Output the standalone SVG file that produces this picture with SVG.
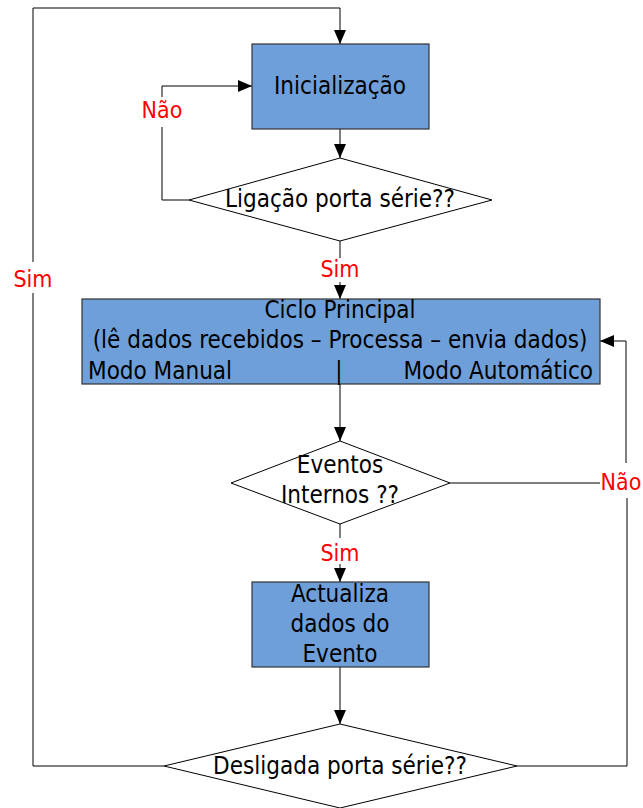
<svg xmlns="http://www.w3.org/2000/svg" width="643" height="808" viewBox="0 0 643 808">
<style>
.box{fill:#6f9fd9;stroke:#333;stroke-width:1.2}
.dia{fill:#fff;stroke:#000;stroke-width:1}
.ln{fill:none;stroke:#000;stroke-width:1}
.t{font-family:"DejaVu Sans Condensed","DejaVu Sans",sans-serif;font-stretch:condensed;font-size:24px;fill:#000;text-anchor:middle}
.lb{font-family:"DejaVu Sans Condensed","DejaVu Sans",sans-serif;font-stretch:condensed;font-size:23px;fill:#f00;text-anchor:middle}
</style>
<defs>
<marker id="ar" markerUnits="userSpaceOnUse" markerWidth="14" markerHeight="14" viewBox="0 0 14 12" refX="14" refY="6" orient="auto">
<path d="M0,0 L14,6 L0,12 Z" fill="#000"/>
</marker>
</defs>
<rect width="643" height="808" fill="#fff"/>
<g id="connectors">
<path class="ln" d="M164,766 H33 V293"/>
<path class="ln" d="M33,262 V8 H340 V44" marker-end="url(#ar)"/>
<path class="ln" d="M340,129 V158" marker-end="url(#ar)"/>
<path class="ln" d="M189,200 H162 V127"/>
<path class="ln" d="M162,97 V86 H252" marker-end="url(#ar)"/>
<path class="ln" d="M340,241 V258"/>
<path class="ln" d="M340,282 V299" marker-end="url(#ar)"/>
<path class="ln" d="M340,384 V441" marker-end="url(#ar)"/>
<path class="ln" d="M450,483 H600"/>
<path class="ln" d="M626,463 V341 H600" marker-end="url(#ar)"/>
<path class="ln" d="M517,766 H627 V498"/>
<path class="ln" d="M340,524 V538"/>
<path class="ln" d="M340,564 V582" marker-end="url(#ar)"/>
<path class="ln" d="M340,667 V724" marker-end="url(#ar)"/>
<text class="lb" x="162" y="118">Não</text>
<text class="lb" x="33" y="287">Sim</text>
<text class="lb" x="340" y="277">Sim</text>
<text class="lb" x="621" y="490">Não</text>
<text class="lb" x="340" y="561">Sim</text>
</g>
<g id="inicializacao">
<rect class="box" x="252" y="44" width="177" height="85"/>
<text class="t" x="340" y="94">Inicialização</text>
</g>
<g id="ligacao">
<polygon class="dia" points="340,158 492,200 340,241 189,200"/>
<text class="t" x="340" y="207">Ligação porta série??</text>
</g>
<g id="ciclo">
<rect class="box" x="82" y="299" width="518" height="85"/>
<text class="t" x="340" y="318">Ciclo Principal</text>
<text class="t" x="340" y="348">(lê dados recebidos – Processa – envia dados)</text>
<text class="t" x="88" y="379" style="text-anchor:start">Modo Manual</text>
<text class="t" x="339" y="379">|</text>
<text class="t" x="593" y="379" style="text-anchor:end">Modo Automático</text>
</g>
<g id="eventos">
<polygon class="dia" points="340,441 450,483 340,524 231,483"/>
<text class="t" x="340" y="473">Eventos</text>
<text class="t" x="340" y="503">Internos ??</text>
</g>
<g id="actualiza">
<rect class="box" x="252" y="582" width="177" height="85"/>
<text class="t" x="340" y="602">Actualiza</text>
<text class="t" x="340" y="632">dados do</text>
<text class="t" x="340" y="662">Evento</text>
</g>
<g id="desligada">
<polygon class="dia" points="340,724 517,766 340,808 164,766"/>
<text class="t" x="340" y="774">Desligada porta série??</text>
</g>
</svg>
